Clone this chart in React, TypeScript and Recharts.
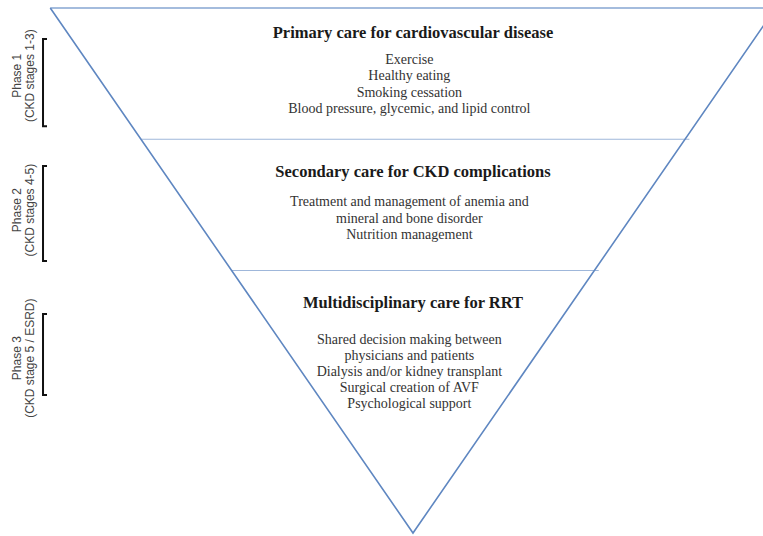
import { ComposedChart, Line, Scatter, XAxis, YAxis } from "recharts"

// depth 0 = top edge of the triangle, 100 = bottom point
const triangleEdges = [
  { x: -1, y: 0 },
  { x: 0, y: 100 },
  { x: 1, y: 0 },
]
const topEdge = [
  { x: -1, y: 0 },
  { x: 1, y: 0 },
]
const dividerDepths = [25, 50]

const titles = [
  "Primary care for cardiovascular disease",
  "Secondary care for CKD complications",
  "Multidisciplinary care for RRT",
]
const titleDepths = [4.6, 31.2, 56.1]

const itemTexts = [
  "Exercise",
  "Healthy eating",
  "Smoking cessation",
  "Blood pressure, glycemic, and lipid control",
  "Treatment and management of anemia and",
  "mineral and bone disorder",
  "Nutrition management",
  "Shared decision making between",
  "physicians and patients",
  "Dialysis and/or kidney transplant",
  "Surgical creation of AVF",
  "Psychological support",
]
const itemDepths = [9.9, 12.95, 16.0, 19.05, 36.95, 40.0, 43.05, 63.05, 66.1, 69.15, 72.2, 75.25]

const phaseNames = ["Phase 1", "Phase 2", "Phase 3"]
const phaseStages = ["(CKD stages 1-3)", "(CKD stages 4-5)", "(CKD stage 5 / ESRD)"]
const phaseCenters = [12.9, 38.5, 66.7]
const bracketTops = [5.9, 30.1, 58.3]
const bracketBottoms = [22.5, 48.2, 73.7]

const BRACKET_X = -1.02
const BRACKET_TICK = -1.009
const PHASE_X = -1.073

const dividers = dividerDepths.map((d) => [
  { x: -(1 - d / 100), y: d },
  { x: 1 - d / 100 + 0.012, y: d },
])

const brackets = bracketTops.map((t, i) => [
  { x: BRACKET_TICK, y: t },
  { x: BRACKET_X, y: t },
  { x: BRACKET_X, y: bracketBottoms[i] },
  { x: BRACKET_TICK, y: bracketBottoms[i] },
])

const titleData = titles.map((text, i) => ({ x: 0.0, y: titleDepths[i], text }))
const itemData = itemTexts.map((text, i) => ({ x: -0.01, y: itemDepths[i], text }))
const phaseData = phaseNames.map((name, i) => ({ x: PHASE_X, y: phaseCenters[i], name, stage: phaseStages[i] }))

const serif = "'Liberation Serif', 'DejaVu Serif', serif"

const TitleShape = (props: any) => (
  <text
    x={props.cx}
    y={props.cy}
    textAnchor="middle"
    dominantBaseline="central"
    fontFamily={serif}
    fontWeight="bold"
    fontSize={16.5}
    fill="#1a1a1a"
  >
    {props.payload.text}
  </text>
)

const ItemShape = (props: any) => (
  <text
    x={props.cx}
    y={props.cy}
    textAnchor="middle"
    dominantBaseline="central"
    fontFamily={serif}
    fontSize={14}
    fill="#333"
  >
    {props.payload.text}
  </text>
)

const PhaseShape = (props: any) => {
  const { cx, cy, payload } = props
  return (
    <g transform={`rotate(-90, ${cx}, ${cy})`}>
      <text
        x={cx}
        y={cy - 6.5}
        textAnchor="middle"
        dominantBaseline="central"
        fontFamily="'Liberation Sans', Arial, sans-serif"
        fontSize={12}
        fill="#444"
      >
        {payload.name}
      </text>
      <text
        x={cx}
        y={cy + 6.5}
        textAnchor="middle"
        dominantBaseline="central"
        fontFamily="'Liberation Sans', Arial, sans-serif"
        fontSize={12}
        fill="#444"
      >
        {payload.stage}
      </text>
    </g>
  )
}

export default function App() {
  return (
    <div style={{ position: "absolute", left: 0, top: 0, width: 763, height: 536, overflow: "hidden", background: "#fff" }}>
      <ComposedChart width={812} height={536} margin={{ top: 8, right: 0, left: 14, bottom: 3 }}>
        <XAxis type="number" dataKey="x" domain={[-1.1, 1.1]} hide />
        <YAxis type="number" dataKey="y" domain={[0, 100]} reversed hide />
        <Line
          data={topEdge}
          dataKey="y"
          stroke="#86a6d2"
          strokeWidth={1.3}
          dot={false}
          activeDot={false}
          isAnimationActive={false}
        />
        {dividers.map((d, i) => (
          <Line
            key={"div" + i}
            data={d}
            dataKey="y"
            stroke="#9fb7da"
            strokeWidth={1.2}
            dot={false}
            activeDot={false}
            isAnimationActive={false}
          />
        ))}
        <Line
          data={triangleEdges}
          dataKey="y"
          stroke="#5f87c1"
          strokeWidth={1.6}
          dot={false}
          activeDot={false}
          isAnimationActive={false}
        />
        {brackets.map((b, i) => (
          <Line
            key={"br" + i}
            data={b}
            dataKey="y"
            stroke="#111"
            strokeWidth={2}
            dot={false}
            activeDot={false}
            isAnimationActive={false}
          />
        ))}
        <Scatter data={titleData} dataKey="y" shape={TitleShape} isAnimationActive={false} />
        <Scatter data={itemData} dataKey="y" shape={ItemShape} isAnimationActive={false} />
        <Scatter data={phaseData} dataKey="y" shape={PhaseShape} isAnimationActive={false} />
      </ComposedChart>
    </div>
  )
}
